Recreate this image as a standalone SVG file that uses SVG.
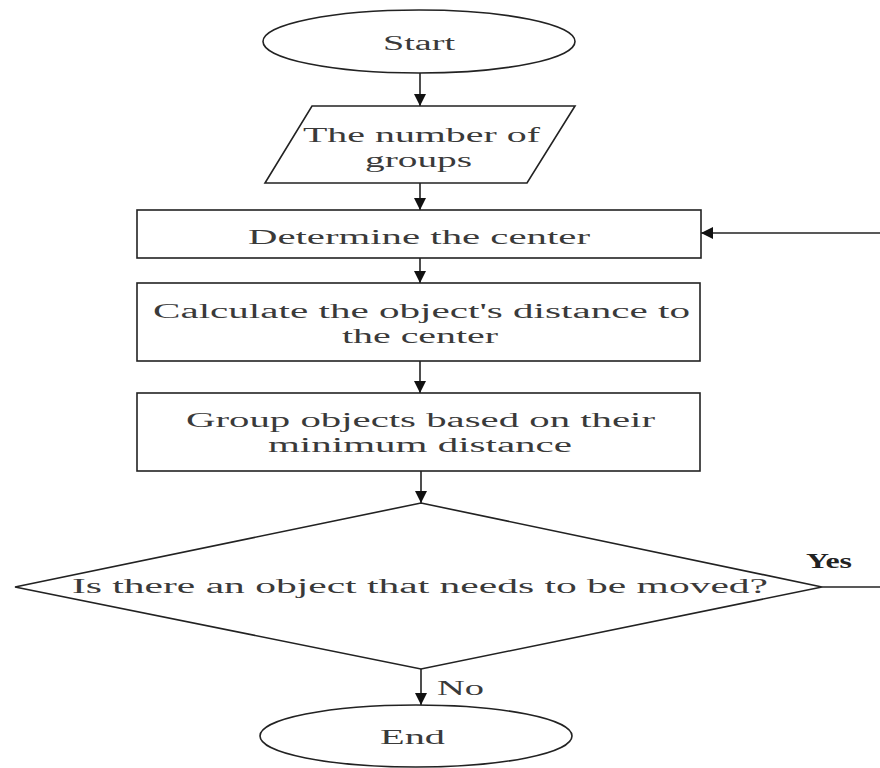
<svg xmlns="http://www.w3.org/2000/svg" width="880" height="768" viewBox="0 0 880 768">
<style>
.shape{fill:#fff;stroke:#222;stroke-width:1.6}
.t{font-family:"Liberation Serif","Times New Roman",serif;font-size:20px;fill:#3a3a3a;text-anchor:start}
.b{font-weight:bold;fill:#222}
.c{fill:none;stroke:#222;stroke-width:1.6}
</style>
<defs>
<marker id="ah" viewBox="0 0 12 12" refX="12" refY="6" markerWidth="12" markerHeight="12" markerUnits="userSpaceOnUse" orient="auto">
<path d="M0,0 L12,6 L0,12 Z" fill="#111"/>
</marker>
</defs>
<rect width="880" height="768" fill="#fff"/>
<g id="connectors">
<line class="c" x1="420" y1="73" x2="420" y2="106" marker-end="url(#ah)"/>
<line class="c" x1="420" y1="183" x2="420" y2="210" marker-end="url(#ah)"/>
<line class="c" x1="420" y1="258" x2="420" y2="283" marker-end="url(#ah)"/>
<line class="c" x1="420" y1="361" x2="420" y2="393" marker-end="url(#ah)"/>
<line class="c" x1="421" y1="471" x2="421" y2="503" marker-end="url(#ah)"/>
<line class="c" x1="421" y1="669" x2="421" y2="705" marker-end="url(#ah)"/>
<line class="c" x1="822" y1="587" x2="880" y2="587"/>
<line class="c" x1="880" y1="233" x2="701" y2="233" marker-end="url(#ah)"/>
<g transform="scale(2,1)">
<text class="t b" x="403" y="568" textLength="23" lengthAdjust="spacingAndGlyphs">Yes</text>
<text class="t" x="218.5" y="695" textLength="23.5" lengthAdjust="spacingAndGlyphs">No</text>
</g>
</g>
<g id="start">
<ellipse class="shape" cx="419" cy="41.5" rx="156" ry="31.5"/>
<g transform="scale(2,1)"><text class="t" x="191.5" y="50" textLength="36" lengthAdjust="spacingAndGlyphs">Start</text></g>
</g>
<g id="input">
<polygon class="shape" points="312,106 575,106 527,183 265,183"/>
<g transform="scale(2,1)">
<text class="t" x="151.5" y="142" textLength="118.5" lengthAdjust="spacingAndGlyphs">The number of</text>
<text class="t" x="182.5" y="167" textLength="53.5" lengthAdjust="spacingAndGlyphs">groups</text>
</g>
</g>
<g id="determine">
<rect class="shape" x="137" y="210" width="564" height="48"/>
<g transform="scale(2,1)"><text class="t" x="124" y="244" textLength="171" lengthAdjust="spacingAndGlyphs">Determine the center</text></g>
</g>
<g id="calculate">
<rect class="shape" x="137" y="283" width="563" height="78"/>
<g transform="scale(2,1)">
<text class="t" x="76.5" y="318" textLength="268.5" lengthAdjust="spacingAndGlyphs">Calculate the object's distance to</text>
<text class="t" x="171" y="343" textLength="78" lengthAdjust="spacingAndGlyphs">the center</text>
</g>
</g>
<g id="group">
<rect class="shape" x="137" y="393" width="563" height="78"/>
<g transform="scale(2,1)">
<text class="t" x="93" y="427" textLength="234.5" lengthAdjust="spacingAndGlyphs">Group objects based on their</text>
<text class="t" x="134" y="452" textLength="152" lengthAdjust="spacingAndGlyphs">minimum distance</text>
</g>
</g>
<g id="decision">
<polygon class="shape" points="421,503 822,587 421,669 15,587"/>
<g transform="scale(2,1)"><text class="t" x="36" y="593" textLength="348" lengthAdjust="spacingAndGlyphs">Is there an object that needs to be moved?</text></g>
</g>
<g id="end">
<ellipse class="shape" cx="416" cy="736" rx="156" ry="31"/>
<g transform="scale(2,1)"><text class="t" x="190" y="744" textLength="32.5" lengthAdjust="spacingAndGlyphs">End</text></g>
</g>
</svg>
